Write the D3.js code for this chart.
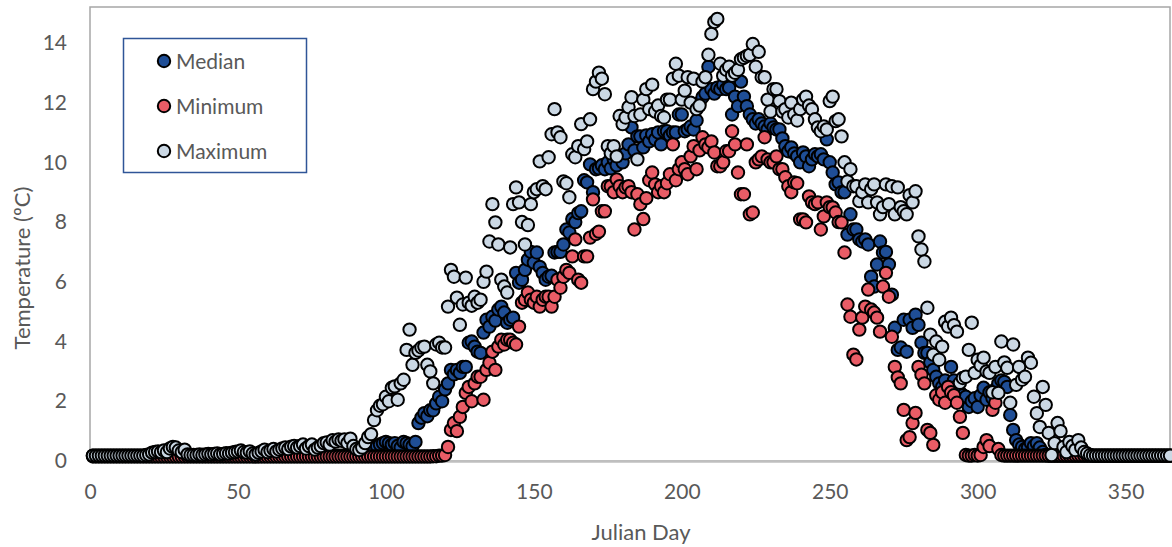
<!DOCTYPE html>
<html lang="en">
	<head>
		<meta charset="utf-8">
		<title>Daily water temperature by Julian day</title>
		<script type="text/javascript" src="https://cdn.jsdelivr.net/npm/d3@7"></script>
		<style type="text/css">
			body { margin: 0; background: #fff; }
			text { font-family: Lato, "Open Sans", sans-serif; fill: #595959; }
			.dot { stroke: #000; stroke-width: 2; }
		</style>
	</head>
	<body>
		<script type="text/javascript">

			//Width and height
			var w = 1172;
			var h = 547;

			//Series names and colours, in legend order
			var seriesNames = ["Median", "Minimum", "Maximum"];
			var seriesColors = ["#1f4e96", "#e95c66", "#cbd8e4"];

			var xTicks = [0, 50, 100, 150, 200, 250, 300, 350];
			var yTicks = [0, 2, 4, 6, 8, 10, 12, 14];

			//Julian day of each value (day 1 .. 365)
			var days = d3.range(1, 366);

			//Median temperature, one value per day
			var median = [
				0.18,0.18,0.18,0.18,0.18,0.18,0.18,0.18,0.18,0.18,
				0.18,0.18,0.18,0.18,0.18,0.18,0.18,0.18,0.18,0.18,
				0.18,0.18,0.18,0.18,0.18,0.18,0.2,0.22,0.2,0.18,
				0.18,0.18,0.18,0.18,0.18,0.18,0.18,0.18,0.18,0.18,
				0.18,0.18,0.18,0.18,0.18,0.18,0.18,0.18,0.18,0.18,
				0.18,0.18,0.18,0.18,0.18,0.18,0.18,0.18,0.18,0.18,
				0.18,0.18,0.18,0.18,0.18,0.18,0.18,0.18,0.18,0.18,
				0.18,0.18,0.18,0.18,0.18,0.18,0.18,0.18,0.18,0.18,
				0.18,0.18,0.18,0.18,0.18,0.18,0.18,0.18,0.18,0.18,
				0.2,0.25,0.3,0.35,0.4,0.45,0.5,0.55,0.6,0.64,
				0.6,0.55,0.6,0.5,0.45,0.64,0.6,0.55,0.5,0.64,
				1.27,1.45,1.6,1.5,1.7,1.7,1.93,2.15,2.0,2.4,
				2.6,3.05,2.9,3.05,2.95,3.15,3.15,3.96,4.0,3.83,
				3.66,3.62,4.3,4.73,4.5,4.83,4.7,5.07,5.17,4.97,
				4.63,4.73,4.8,6.3,5.97,6.07,6.4,6.74,7.0,6.64,
				6.98,6.5,6.3,6.07,6.17,6.2,6.98,7.0,7.0,7.25,
				7.75,7.65,8.1,8.0,8.3,8.36,9.4,9.33,9.93,9.0,
				9.77,9.8,9.9,9.77,10.0,9.8,10.1,9.9,10.2,10.0,
				10.3,10.6,11.17,10.4,10.87,10.87,10.5,10.9,10.7,10.94,
				10.77,11.0,10.6,11.04,11.04,10.9,11.0,11.0,11.6,11.6,
				11.04,11.1,11.2,11.1,11.4,12.0,12.18,12.3,13.2,12.45,
				12.3,12.5,12.45,12.6,12.45,12.5,11.6,12.2,11.88,12.7,
				12.2,11.88,11.6,11.44,11.3,11.44,11.3,11.2,11.1,11.3,
				11.17,11.1,11.1,10.8,10.54,10.37,10.5,10.3,10.2,10.0,
				10.33,10.2,9.87,10.1,10.27,10.2,10.27,10.1,10.77,10.0,
				9.66,9.26,9.33,9.0,9.0,7.58,8.26,7.75,7.75,7.42,
				7.35,7.42,7.25,6.17,5.84,6.58,7.35,6.98,7.0,6.58,
				5.57,4.46,3.72,3.8,4.73,3.66,4.73,4.46,4.9,4.56,
				3.96,3.62,3.62,3.3,3.05,2.82,2.6,2.48,2.7,2.38,
				3.15,2.7,2.5,2.3,2.2,2.15,1.81,2.0,2.1,1.81,
				2.2,2.45,2.05,2.3,2.1,2.4,2.6,2.7,2.65,2.48,
				1.54,1.04,0.7,0.55,0.47,0.4,0.45,0.6,0.5,0.6,
				0.45,0.3,0.2,0.18,0.18,0.18,0.18,0.18,0.18,0.18,
				0.18,0.18,0.18,0.18,0.18,0.18,0.18,0.18,0.18,0.18,
				0.18,0.18,0.18,0.18,0.18,0.18,0.18,0.18,0.18,0.18,
				0.18,0.18,0.18,0.18,0.18,0.18,0.18,0.18,0.18,0.18,
				0.18,0.18,0.18,0.18,0.18
			];

			//Minimum temperature, one value per day
			var minimum = [
				0.15,0.15,0.15,0.15,0.15,0.15,0.15,0.15,0.15,0.15,
				0.15,0.15,0.15,0.15,0.15,0.15,0.15,0.15,0.15,0.15,
				0.15,0.15,0.15,0.15,0.15,0.15,0.15,0.15,0.15,0.15,
				0.15,0.15,0.15,0.15,0.15,0.15,0.15,0.15,0.15,0.15,
				0.15,0.15,0.15,0.15,0.15,0.15,0.15,0.15,0.15,0.15,
				0.15,0.15,0.15,0.15,0.15,0.15,0.15,0.15,0.15,0.15,
				0.15,0.15,0.15,0.15,0.15,0.15,0.15,0.15,0.15,0.15,
				0.15,0.15,0.15,0.15,0.15,0.15,0.15,0.15,0.15,0.15,
				0.15,0.15,0.15,0.15,0.15,0.15,0.15,0.15,0.15,0.15,
				0.15,0.15,0.15,0.15,0.15,0.15,0.15,0.15,0.15,0.15,
				0.15,0.15,0.15,0.15,0.15,0.15,0.15,0.15,0.15,0.15,
				0.15,0.15,0.15,0.15,0.15,0.16,0.16,0.18,0.18,0.2,
				0.47,1.04,1.27,1.0,1.48,1.81,2.28,2.48,2.0,2.6,
				2.82,2.82,2.05,3.05,3.29,3.66,3.05,3.83,4.06,3.9,
				4.06,4.06,3.96,3.9,4.5,5.3,5.4,5.64,5.4,5.3,
				5.5,5.17,5.4,5.5,5.5,5.17,5.5,6.07,5.8,6.17,
				6.4,6.3,6.85,7.42,6.07,5.97,6.85,6.85,7.48,8.76,
				7.6,7.68,8.36,8.36,9.2,9.2,9.0,9.43,9.2,9.0,
				9.16,9.2,9.0,7.75,8.93,8.6,8.1,8.8,9.4,9.66,
				9.26,9.0,9.2,9.0,9.3,9.6,10.6,9.4,9.77,10.0,
				9.77,9.6,10.2,10.54,9.77,10.4,10.84,10.6,10.5,10.7,
				10.33,9.87,9.87,10.0,10.37,10.37,11.04,10.6,9.66,8.93,
				8.93,10.6,8.26,8.32,10.0,10.1,10.2,10.84,10.1,10.0,
				10.0,10.2,9.77,9.77,9.5,9.2,9.0,9.33,9.3,8.09,
				8.09,7.99,8.86,8.66,8.6,8.66,7.75,8.19,8.66,8.5,
				8.49,8.32,8.0,7.99,6.98,5.24,4.83,3.56,3.4,4.4,
				4.8,5.17,5.74,5.07,4.97,4.8,4.33,5.84,6.3,5.5,
				4.16,3.15,2.8,2.6,1.71,0.7,0.8,1.27,1.61,3.15,
				2.89,2.6,1.04,0.94,0.54,2.2,2.05,2.3,1.95,2.48,
				2.3,2.2,1.95,1.48,0.94,0.2,0.18,0.18,0.2,0.18,
				0.2,0.47,0.7,0.5,1.71,1.95,0.4,0.2,0.18,0.18,
				0.18,0.18,0.18,0.18,0.18,0.18,0.18,0.18,0.18,0.18,
				0.18,0.18,0.18,0.18,0.18,0.18,0.18,0.18,0.18,0.18,
				0.18,0.18,0.18,0.18,0.18,0.18,0.18,0.18,0.18,0.18,
				0.18,0.18,0.18,0.18,0.18,0.18,0.18,0.18,0.18,0.18,
				0.18,0.18,0.18,0.18,0.18,0.18,0.18,0.18,0.18,0.18,
				0.18,0.18,0.18,0.18,0.18
			];

			//Maximum temperature, one value per day
			var maximum = [
				0.18,0.18,0.18,0.18,0.18,0.18,0.18,0.18,0.18,0.18,
				0.18,0.18,0.18,0.18,0.18,0.18,0.18,0.18,0.2,0.22,
				0.28,0.3,0.32,0.3,0.35,0.3,0.42,0.47,0.45,0.35,
				0.3,0.38,0.22,0.2,0.2,0.2,0.22,0.2,0.22,0.24,
				0.22,0.24,0.25,0.22,0.24,0.26,0.25,0.28,0.3,0.32,
				0.35,0.3,0.28,0.32,0.25,0.22,0.28,0.32,0.38,0.3,
				0.35,0.4,0.32,0.38,0.42,0.45,0.4,0.48,0.5,0.45,
				0.5,0.55,0.42,0.5,0.55,0.38,0.45,0.5,0.6,0.62,
				0.55,0.7,0.65,0.72,0.68,0.72,0.6,0.75,0.5,0.4,
				0.37,0.45,0.6,0.8,0.9,1.37,1.7,1.85,1.9,2.15,
				2.0,2.45,2.5,2.05,2.6,2.72,3.72,4.4,3.22,3.62,
				3.7,3.8,3.83,3.22,3.0,2.6,3.9,3.96,3.8,3.8,
				5.17,6.4,6.17,5.47,4.56,5.24,6.14,5.3,5.2,5.5,
				5.3,5.4,6.0,6.34,7.35,8.6,7.99,7.25,6.07,5.84,
				5.64,7.15,8.6,9.16,8.66,8.0,7.25,7.9,8.6,9.0,
				9.1,10.03,9.2,9.1,10.17,10.94,11.78,11.0,10.84,9.36,
				9.3,8.83,10.27,10.17,10.54,11.28,10.44,10.7,11.44,12.45,
				12.7,13.0,12.8,12.28,10.54,10.3,10.54,10.2,11.55,11.28,
				11.5,11.85,12.18,11.55,10.1,11.6,12.1,12.45,11.78,12.6,
				11.7,11.9,11.55,11.5,12.1,12.1,12.8,13.3,12.9,12.1,
				12.4,12.85,12.0,12.8,11.78,11.9,12.7,12.85,13.6,14.3,
				14.7,14.8,13.3,12.9,13.1,13.2,12.9,13.0,13.1,13.45,
				13.5,13.56,13.6,13.96,13.2,13.7,12.85,12.85,12.1,11.7,
				12.45,12.45,12.05,11.7,11.78,11.5,12.0,11.6,11.4,11.78,
				12.1,12.2,11.9,11.78,11.44,11.17,11.04,11.2,11.1,12.05,
				12.2,11.38,11.44,10.87,10.0,9.36,9.77,9.2,9.2,8.7,
				9.0,9.26,8.66,9.1,9.26,8.66,8.26,8.5,9.26,8.6,
				9.2,8.26,9.16,8.5,8.36,8.26,8.9,8.66,9.03,7.52,
				7.08,6.68,5.13,4.23,3.56,4.0,3.39,3.83,4.66,4.5,
				4.8,4.55,4.33,2.62,2.78,2.82,3.72,4.63,2.95,3.39,
				3.2,3.46,3.0,2.95,2.3,3.15,2.28,4.0,3.3,3.12,
				1.95,3.9,2.55,3.15,2.72,2.82,3.46,3.29,2.15,1.6,
				1.14,2.48,1.88,0.94,0.2,0.6,1.27,1.0,0.47,0.3,
				0.64,0.5,0.37,0.7,0.45,0.3,0.25,0.2,0.18,0.18,
				0.18,0.18,0.18,0.18,0.18,0.18,0.18,0.18,0.18,0.18,
				0.18,0.18,0.18,0.18,0.18,0.18,0.18,0.18,0.18,0.18,
				0.18,0.18,0.18,0.18,0.18
			];

			var seriesValues = [median, minimum, maximum];

			//Plot area
			var plotLeft = 90, plotRight = 1170, plotTop = 7, plotBottom = 461;

			//Create scale functions
			var xScale = d3.scaleLinear()
								 .domain([0, 365])
								 .range([plotLeft, plotRight]);

			var yScale = d3.scaleLinear()
								 .domain([0, 15.2])
								 .range([plotBottom, plotTop]);

			var xAxis = d3.axisBottom(xScale)
										.tickValues(xTicks)
										.tickSize(0)
										.tickPadding(23);

			var yAxis = d3.axisLeft(yScale)
										.tickValues(yTicks)
										.tickSize(0)
										.tickPadding(23);

			//Create SVG element
			var svg = d3.select("body")
						.append("svg")
						.attr("width", w)
						.attr("height", h);

			//Plot area border
			svg.append("rect")
			   .attr("x", plotLeft)
			   .attr("y", plotTop)
			   .attr("width", plotRight - plotLeft)
			   .attr("height", plotBottom - plotTop)
			   .attr("fill", "none")
			   .attr("stroke", "#a6a6a6")
			   .attr("stroke-width", 1.5);

			//Axes (labels only, no tick marks)
			var gx = svg.append("g")
			   .attr("transform", `translate(0,${plotBottom})`)
			   .call(xAxis);
			gx.select(".domain").attr("stroke", "#bfbfbf").attr("stroke-width", 2.5);
			gx.selectAll("text").style("font-size", "21px").attr("fill", "#595959");

			var gy = svg.append("g")
			   .attr("transform", `translate(${plotLeft},0)`)
			   .call(yAxis);
			gy.select(".domain").remove();
			gy.selectAll("text").style("font-size", "21px").attr("fill", "#595959");

			//Points: median, then minimum, then maximum on top
			seriesValues.forEach(function(values, s) {
				svg.append("g")
				   .selectAll("circle")
				   .data(values)
				   .enter()
				   .append("circle")
				   .attr("class", "dot")
				   .attr("cx", function(d, i) { return xScale(days[i]); })
				   .attr("cy", function(d) { return yScale(d); })
				   .attr("r", 6.2)
				   .attr("fill", seriesColors[s]);
			});

			//Axis titles
			svg.append("text")
			   .attr("x", 641)
			   .attr("y", 540)
			   .attr("text-anchor", "middle")
			   .style("font-size", "22px")
			   .text("Julian Day");

			svg.append("text")
			   .attr("transform", "translate(30,268) rotate(-90)")
			   .attr("text-anchor", "middle")
			   .style("font-size", "22px")
			   .text("Temperature (ºC)");

			//Legend
			var legend = svg.append("g");
			legend.append("rect")
			   .attr("x", 123.5)
			   .attr("y", 38.5)
			   .attr("width", 183)
			   .attr("height", 134)
			   .attr("fill", "#fff")
			   .attr("stroke", "#2f5597")
			   .attr("stroke-width", 1.5);

			var legendY = [61, 106, 151];
			seriesNames.forEach(function(name, s) {
				legend.append("circle")
				   .attr("class", "dot")
				   .attr("cx", 164)
				   .attr("cy", legendY[s])
				   .attr("r", 6.2)
				   .attr("fill", seriesColors[s]);
				legend.append("text")
				   .attr("x", 176)
				   .attr("y", legendY[s] + 7.5)
				   .style("font-size", "21px")
				   .text(name);
			});

		</script>
	</body>
</html>
